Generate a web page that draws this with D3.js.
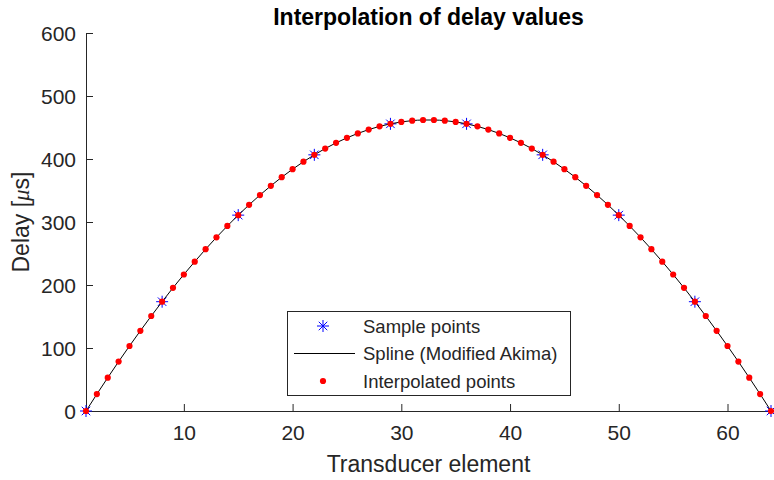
<!DOCTYPE html>
<html>
<head>
<meta charset="utf-8">
<script src="https://cdn.jsdelivr.net/npm/d3@7"></script>
<style>
  html, body { margin: 0; padding: 0; background: #ffffff; }
  svg { display: block; font-family: "Liberation Sans", Arial, Helvetica, sans-serif; }
</style>
</head>
<body>
<svg id="chart" width="774" height="480"></svg>
<script>
// Transducer elements where the delay was sampled
const sampleElements = [1, 8, 15, 22, 29, 36, 43, 50, 57, 64];
// Sampled delay values (microseconds)
const sampleDelays = [0, 173.5, 310.9, 406.6, 455.8, 455.8, 406.6, 310.9, 173.5, 0];

// Every transducer element, 1..64
const elements = [
  1, 2, 3, 4, 5, 6, 7, 8, 9, 10, 11, 12, 13, 14, 15, 16,
  17, 18, 19, 20, 21, 22, 23, 24, 25, 26, 27, 28, 29, 30, 31, 32,
  33, 34, 35, 36, 37, 38, 39, 40, 41, 42, 43, 44, 45, 46, 47, 48,
  49, 50, 51, 52, 53, 54, 55, 56, 57, 58, 59, 60, 61, 62, 63, 64
];
// Delay at every element (microseconds)
const elementDelays = [
  0, 26.8, 52.9, 78.4, 103.2, 127.3, 150.8, 173.5,
  195.5, 216.7, 237.1, 256.8, 275.7, 293.7, 310.9, 327.3,
  342.8, 357.4, 371.1, 383.8, 395.7, 406.6, 416.6, 425.6,
  433.6, 440.6, 446.7, 451.8, 455.8, 458.9, 460.9, 461.9,
  461.9, 460.9, 458.9, 455.8, 451.8, 446.7, 440.6, 433.6,
  425.6, 416.6, 406.6, 395.7, 383.8, 371.1, 357.4, 342.8,
  327.3, 310.9, 293.7, 275.7, 256.8, 237.1, 216.7, 195.5,
  173.5, 150.8, 127.3, 103.2, 78.4, 52.9, 26.8, 0
];

const xTicks = [10, 20, 30, 40, 50, 60];
const yTicks = [0, 100, 200, 300, 400, 500, 600];
const legendLabels = ["Sample points", "Spline (Modified Akima)", "Interpolated points"];

const svg = d3.select("#chart");
const axisColor = "#262626";

const plot = { left: 86, right: 771, top: 33, bottom: 411 };

const x = d3.scaleLinear().domain([1, 64]).range([plot.left, plot.right]);
const y = d3.scaleLinear().domain([0, 600]).range([plot.bottom, plot.top]);

// Axes: only left and bottom, ticks pointing inward
const xAxis = d3.axisBottom(x).tickValues(xTicks).tickSizeInner(-7).tickSizeOuter(0).tickPadding(14);
const yAxis = d3.axisLeft(y).tickValues(yTicks).tickSizeInner(-7).tickSizeOuter(0).tickPadding(10);

const gx = svg.append("g").attr("transform", `translate(0,${plot.bottom})`).call(xAxis);
const gy = svg.append("g").attr("transform", `translate(${plot.left},0)`).call(yAxis);

[gx, gy].forEach(g => {
  g.select(".domain").attr("stroke", axisColor).attr("stroke-width", 1);
  g.selectAll(".tick line").attr("stroke", axisColor).attr("stroke-width", 1);
  g.selectAll(".tick text")
    .attr("fill", axisColor)
    .style("font-size", "21px")
    .style("font-family", "'Liberation Sans', Arial, sans-serif");
});
gx.selectAll(".tick text").attr("dy", "0.71em");
gy.selectAll(".tick text").attr("dy", "0.36em");

// Axis titles
svg.append("text")
  .attr("x", (plot.left + plot.right) / 2)
  .attr("y", 472)
  .attr("text-anchor", "middle")
  .attr("fill", axisColor)
  .style("font-size", "23px")
  .text("Transducer element");

const yl = svg.append("text")
  .attr("transform", `translate(29,${(plot.top + plot.bottom) / 2}) rotate(-90)`)
  .attr("text-anchor", "middle")
  .attr("fill", axisColor)
  .style("font-size", "23px");
yl.append("tspan").text("Delay [");
yl.append("tspan").style("font-style", "italic").style("font-family", "'Liberation Serif', 'Times New Roman', serif").text("\u03bc");
yl.append("tspan").text("s]");

// Title
svg.append("text")
  .attr("x", (plot.left + plot.right) / 2)
  .attr("y", 25)
  .attr("text-anchor", "middle")
  .attr("fill", "#000000")
  .style("font-size", "23px")
  .style("font-weight", "bold")
  .text("Interpolation of delay values");

// Asterisk marker path centered at origin
function asterisk(r) {
  const d = r * Math.SQRT1_2;
  return `M${-r},0L${r},0M0,${-r}L0,${r}M${-d},${-d}L${d},${d}M${-d},${d}L${d},${-d}`;
}

// Sample points
svg.append("g").selectAll("path")
  .data(sampleElements.map((e, i) => [e, sampleDelays[i]]))
  .join("path")
  .attr("transform", d => `translate(${x(d[0])},${y(d[1])})`)
  .attr("d", asterisk(6))
  .attr("fill", "none")
  .attr("stroke", "#0000ff")
  .attr("stroke-width", 1);

// Spline through the element delays
const line = d3.line()
  .x(d => x(d[0]))
  .y(d => y(d[1]))
  .curve(d3.curveMonotoneX);
svg.append("path")
  .datum(elements.map((e, i) => [e, elementDelays[i]]))
  .attr("d", line)
  .attr("fill", "none")
  .attr("stroke", "#000000")
  .attr("stroke-width", 1);

// Interpolated points
svg.append("g").selectAll("circle")
  .data(elements.map((e, i) => [e, elementDelays[i]]))
  .join("circle")
  .attr("cx", d => x(d[0]))
  .attr("cy", d => y(d[1]))
  .attr("r", 3.1)
  .attr("fill", "#ff0000");

// Legend
const legend = { x: 287, y: 311, w: 283, h: 84 };
const lg = svg.append("g");
lg.append("rect")
  .attr("x", legend.x + 0.5).attr("y", legend.y + 0.5)
  .attr("width", legend.w).attr("height", legend.h)
  .attr("fill", "#ffffff").attr("stroke", axisColor).attr("stroke-width", 1);

const rowY = [326, 353.5, 381];
const markerX = 323;
const textX = 363;

lg.append("path")
  .attr("transform", `translate(${markerX},${rowY[0]})`)
  .attr("d", asterisk(6))
  .attr("fill", "none").attr("stroke", "#0000ff").attr("stroke-width", 1);
lg.append("line")
  .attr("x1", 294).attr("x2", 355)
  .attr("y1", rowY[1]).attr("y2", rowY[1])
  .attr("stroke", "#000000").attr("stroke-width", 1);
lg.append("circle")
  .attr("cx", markerX).attr("cy", rowY[2]).attr("r", 3.1).attr("fill", "#ff0000");

lg.selectAll("text.lbl")
  .data(legendLabels)
  .join("text")
  .attr("class", "lbl")
  .attr("x", textX)
  .attr("y", (d, i) => rowY[i])
  .attr("dy", "0.36em")
  .attr("fill", axisColor)
  .style("font-size", "18.5px")
  .text(d => d);
</script>
</body>
</html>
